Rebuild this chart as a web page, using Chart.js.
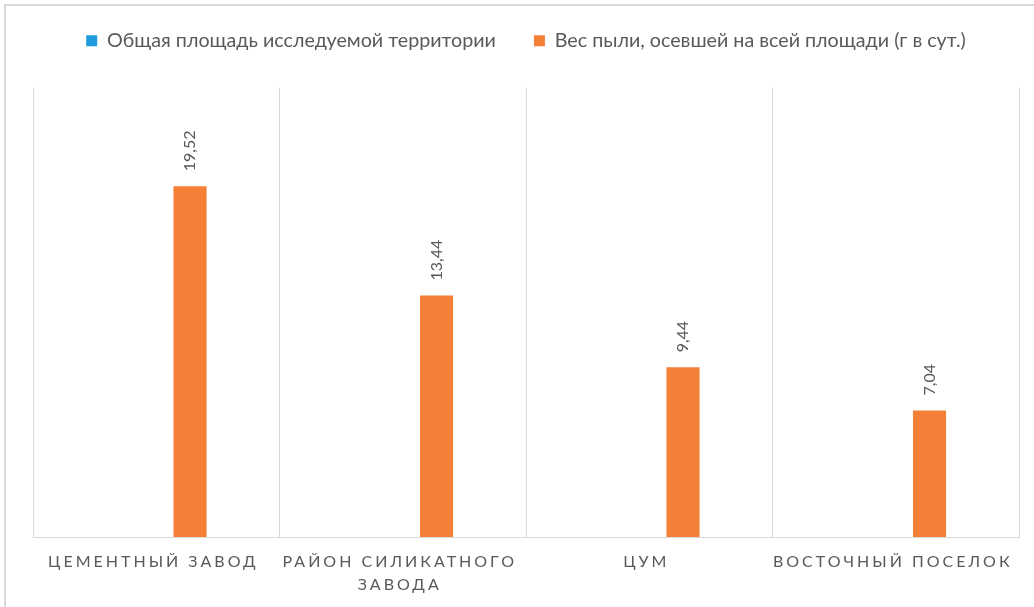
<!DOCTYPE html>
<html>
<head>
<meta charset="utf-8">
<script src="https://cdn.jsdelivr.net/npm/chart.js@4"></script>
<style>
  html, body { margin:0; padding:0; background:#fff; }
  #wrap { position:relative; width:1034px; height:607px; overflow:hidden; }
  #frame { position:absolute; left:4px; top:4px; width:1100px; height:700px;
           border-left:2px solid #d9d9d9; border-top:2px solid #d9d9d9; pointer-events:none; }
  canvas { position:absolute; left:0; top:0; }
</style>
</head>
<body>
<div id="wrap">
  <canvas id="chart" width="1034" height="607"></canvas>
  <div id="frame"></div>
</div>
<script>
// данные
const categories = [
  ['ЦЕМЕНТНЫЙ ЗАВОД'],
  ['РАЙОН СИЛИКАТНОГО', 'ЗАВОДА'],
  ['ЦУМ'],
  ['ВОСТОЧНЫЙ ПОСЕЛОК']
];
const seriesNames = ['Общая площадь исследуемой территории', 'Вес пыли, осевшей на всей площади (г в сут.)'];
const areaValues = [0, 0, 0, 0];
const dustValues = [19.52, 13.44, 9.44, 7.04];

const GRAY = '#595959';
const FONT = 'Lato, "Open Sans", sans-serif';

// легенда: подгонка отступа снизу
const legendGap = {
  id: 'legendGap',
  beforeInit(chart){
    const fit = chart.legend.fit;
    chart.legend.fit = function(){ fit.bind(chart.legend)(); this.height += 27; };
  }
};

// подписи значений, повернутые на 90°
const valueLabels = {
  id: 'valueLabels',
  afterDatasetsDraw(chart){
    const ctx = chart.ctx;
    const meta = chart.getDatasetMeta(1);
    ctx.save();
    ctx.font = '16px ' + FONT;
    ctx.fillStyle = GRAY;
    ctx.textAlign = 'left';
    ctx.textBaseline = 'middle';
    meta.data.forEach((bar, i) => {
      const txt = dustValues[i].toFixed(2).replace('.', ',');
      ctx.save();
      ctx.translate(bar.x, bar.y - 15);
      ctx.rotate(-Math.PI / 2);
      ctx.fillText(txt, 0, 0);
      ctx.restore();
    });
    ctx.restore();
  }
};

// подписи категорий с разрядкой
const catLabels = {
  id: 'catLabels',
  afterDraw(chart){
    const ctx = chart.ctx;
    const x = chart.scales.x;
    ctx.save();
    ctx.font = '16px ' + FONT;
    ctx.fillStyle = GRAY;
    ctx.letterSpacing = '3px';
    ctx.textAlign = 'center';
    ctx.textBaseline = 'middle';
    categories.forEach((lines, i) => {
      const cx = x.getPixelForValue(i);
      lines.forEach((ln, k) => ctx.fillText(ln, cx - 3, 562 + k * 23));
    });
    ctx.restore();
  }
};

new Chart(document.getElementById('chart'), {
  type: 'bar',
  data: {
    labels: categories,
    datasets: [
      { label: seriesNames[0], data: areaValues, backgroundColor: '#1f9bde',
        categoryPercentage: 0.548, barPercentage: 0.49 },
      { label: seriesNames[1], data: dustValues, backgroundColor: '#f47f36',
        categoryPercentage: 0.548, barPercentage: 0.49 }
    ]
  },
  options: {
    responsive: false,
    animation: false,
    layout: { padding: { left: 33, right: 15, top: -7, bottom: 70 } },
    plugins: {
      legend: {
        position: 'top',
        labels: { boxWidth: 11, boxHeight: 11, padding: 38, color: GRAY,
                  font: { family: FONT, size: 19.7 } }
      },
      tooltip: { enabled: false }
    },
    scales: {
      x: {
        grid: { offset: true, color: '#d9d9d9', drawTicks: false },
        border: { color: '#d9d9d9' },
        ticks: { display: false }
      },
      y: { display: false, min: 0, max: 25 }
    }
  },
  plugins: [legendGap, valueLabels, catLabels]
});
</script>
</body>
</html>
